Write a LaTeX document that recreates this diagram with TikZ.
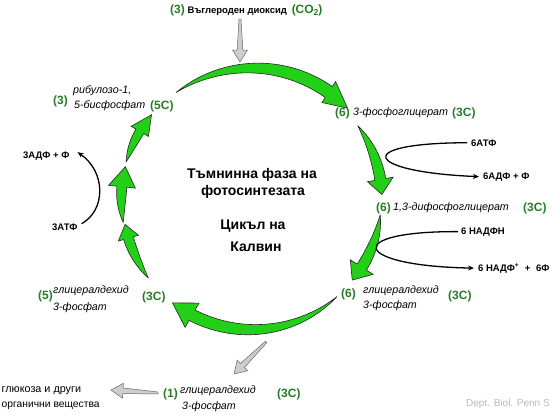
\documentclass[tikz,border=0pt]{standalone}
\usepackage{fontspec}
\setmainfont{Liberation Sans}
\usetikzlibrary{arrows.meta,calc}
\definecolor{arrgreen}{RGB}{34,208,24}
\definecolor{txtgreen}{RGB}{40,125,40}
\definecolor{arrgray}{RGB}{205,205,205}
\definecolor{wmgray}{RGB}{185,185,185}

\newcommand{\gl}{\bfseries\color{txtgreen}\fontsize{12}{14}\selectfont}
\newcommand{\itl}{\itshape\fontsize{10.7}{13}\selectfont}
\newcommand{\sml}{\bfseries\fontsize{9.5}{11}\selectfont}
\newcommand{\ttl}{\bfseries\fontsize{14}{17}\selectfont}

% #1 tail angle, #2 tail radius, #3 head-base angle, #4 tip angle, #5 tip radius,
% #6 shaft half width, #7 head half width
\newcommand{\garrow}[7]{%
  \pgfmathsetmacro{\gRb}{#2+(#5-#2)*((#3)-(#1))/((#4)-(#1))}%
  \pgfmathsetmacro{\gOut}{\gRb+#7}%
  \pgfmathsetmacro{\gIn}{\gRb-#7}%
  \path[greenarrow]
    plot[domain=#1:#3,samples=40]
      (\x:{#2+(#5-#2)*(\x-(#1))/((#4)-(#1)) + #6*((\x-(#1))/((#3)-(#1)))*(2-(\x-(#1))/((#3)-(#1)))})
    -- (#3:\gOut) -- (#4:#5) -- (#3:\gIn)
    -- plot[domain=#3:#1,samples=40]
      (\x:{#2+(#5-#2)*(\x-(#1))/((#4)-(#1)) - #6*((\x-(#1))/((#3)-(#1)))*(2-(\x-(#1))/((#3)-(#1)))})
    -- cycle;}

% gray arrow from #1 (tail) to #2 (tip)
\newcommand{\grayarr}[2]{%
  \path[grayarrow]
    (#2) -- ($($(#2)!12pt!(#1)$)!7.5pt!90:(#1)$)
    -- ($($(#2)!12pt!(#1)$)!2.8pt!90:(#1)$)
    -- ($(#1)!1pt!-90:(#2)$)
    -- ($(#1)!1pt!90:(#2)$)
    -- ($($(#2)!12pt!(#1)$)!2.8pt!-90:(#1)$)
    -- ($($(#2)!12pt!(#1)$)!7.5pt!-90:(#1)$)
    -- cycle;}

\begin{document}
\begin{tikzpicture}[x=1pt,y=-1pt,
  greenarrow/.style={fill=arrgreen,draw=black!85,line width=0.6pt,line join=miter},
  grayarrow/.style={fill=arrgray,draw=black!60,line width=0.5pt,line join=miter},
  lbl/.style={inner sep=0pt,anchor=base west},
  blackarr/.style={draw=black,line width=1.3pt,-{Stealth[length=6pt,width=5pt]}}]
\useasboundingbox (0,0) rectangle (552,416);
\fill[white] (0,0) rectangle (552,416);

% green cycle arrows
\begin{scope}[shift={(258,201)}]
  \garrow{-127}{136}{-57}{-46}{129}{6.5}{12.5}
  \garrow{-37}{125}{-10}{-3}{124}{5.5}{13}
  \garrow{6.5}{123}{32.5}{40}{123}{5.5}{13.5}
  \garrow{50.5}{124}{120}{130}{133}{6}{14}
  \garrow{145}{134}{164}{170}{135}{5}{10.5}
  \garrow{171}{136.5}{186}{194.5}{137}{5}{13.5}
  \garrow{196.5}{137.5}{210.5}{219}{137}{4.5}{10}
\end{scope}

% title
\node[inner sep=0pt,anchor=base] (t1) at (252,178) {\ttl Тъмнинна фаза на};
\node[inner sep=0pt,anchor=base] (t2) at (253,195) {\ttl фотосинтезата};
\node[inner sep=0pt,anchor=base] (t3) at (253,229) {\ttl Цикъл на};
\node[inner sep=0pt,anchor=base] (t4) at (256,251) {\ttl Калвин};

% top CO2
\node[lbl] (co2) at (170,13) {{\gl (3)} {\sml Въглероден диоксид}\hspace{2pt} {\gl (CO\raisebox{-2.5pt}{\fontsize{8.5}{9}\selectfont 2})}};
\coordinate (co2tail) at (240,19);
\coordinate (co2tip) at (240,62);
\grayarr{co2tail}{co2tip}

% ribulose
\node[lbl] (g3a) at (53,104) {\gl (3)};
\node[lbl] (rib1) at (73,93.5) {\itl рибулозо-1,};
\node[lbl] (rib2) at (74,108.5) {\itl 5-бисфосфат};
\node[lbl] (g5c) at (150,109) {\gl (5C)};

% 3-phosphoglycerate
\node[lbl] (g6a) at (335,116) {\gl (6)};
\node[lbl] (pga) at (353,115.5) {\itl 3-фосфоглицерат};
\node[lbl] (g3ca) at (452,116) {\gl (3C)};

% ATP / ADP right
\node[lbl] (atp6) at (471,146) {\sml 6АТФ};
\node[lbl] (adp6) at (483,179) {\sml 6АДФ + Ф};
\draw[blackarr] ([xshift=-4pt]atp6.west) .. controls (350,143) and (365,172) .. ([xshift=-4pt]adp6.west);

% 1,3-bisphosphoglycerate
\node[lbl] (g6b) at (376,211) {\gl (6)};
\node[lbl] (bpg) at (393,210.5) {\itl 1,3-дифосфоглицерат};
\node[lbl] (g3cb) at (523,211) {\gl (3C)};

% NADPH
\node[lbl] (nadph) at (461,234) {\sml 6 НАДФН};
\node[lbl] (nadp) at (478,271) {\sml 6 НАДФ\textsuperscript{+}\hspace{3pt} +\hspace{3pt} 6Ф};
\draw[blackarr] ([xshift=-3pt]nadph.west) .. controls (342,231) and (352,266) .. ([xshift=-4pt]nadp.west);

% G3P (6)
\node[lbl] (g6c) at (341,297) {\gl (6)};
\node[lbl] (gap6a) at (363,293.5) {\itl глицералдехид};
\node[lbl] (gap6b) at (363,308.5) {\itl 3-фосфат};
\node[lbl] (g3cc) at (448,299) {\gl (3C)};

% G3P (5)
\node[lbl] (g5) at (38,299) {\gl (5)};
\node[lbl] (gap5a) at (53,293.5) {\itl глицералдехид};
\node[lbl] (gap5b) at (53,310) {\itl 3-фосфат};
\node[lbl] (g3cd) at (142,300) {\gl (3C)};

% ATP left
\node[lbl] (adp3) at (23,158.5) {\sml 3АДФ + Ф};
\node[lbl] (atp3) at (52,230) {\sml 3АТФ};
\draw[blackarr] ([xshift=4pt,yshift=3pt]atp3.east) .. controls (106,210) and (106,172) .. ([xshift=8pt,yshift=4pt]adp3.east);

% G3P (1) and output
\coordinate (outtail) at (266,342);
\coordinate (outtip) at (234,374);
\grayarr{outtail}{outtip}
\node[lbl] (g1) at (163,397) {\gl (1)};
\node[lbl] (gap1a) at (180,393.5) {\itl глицералдехид};
\node[lbl] (gap1b) at (182,409.5) {\itl 3-фосфат};
\node[lbl] (g3ce) at (277,397) {\gl (3C)};
\node[lbl] (gluc1) at (1.5,392) {\fontsize{10.8}{12}\selectfont глюкоза и други};
\node[lbl] (gluc2) at (1.5,407) {\fontsize{10.3}{12}\selectfont органични вещества};
\coordinate (gtail) at (158,393);
\coordinate (gtip) at (111,390);
\grayarr{gtail}{gtip}

% watermark
\node[lbl,text=wmgray] (wm) at (466,406) {\fontsize{10}{12}\selectfont Dept. Biol. Penn S};
\end{tikzpicture}
\end{document}
